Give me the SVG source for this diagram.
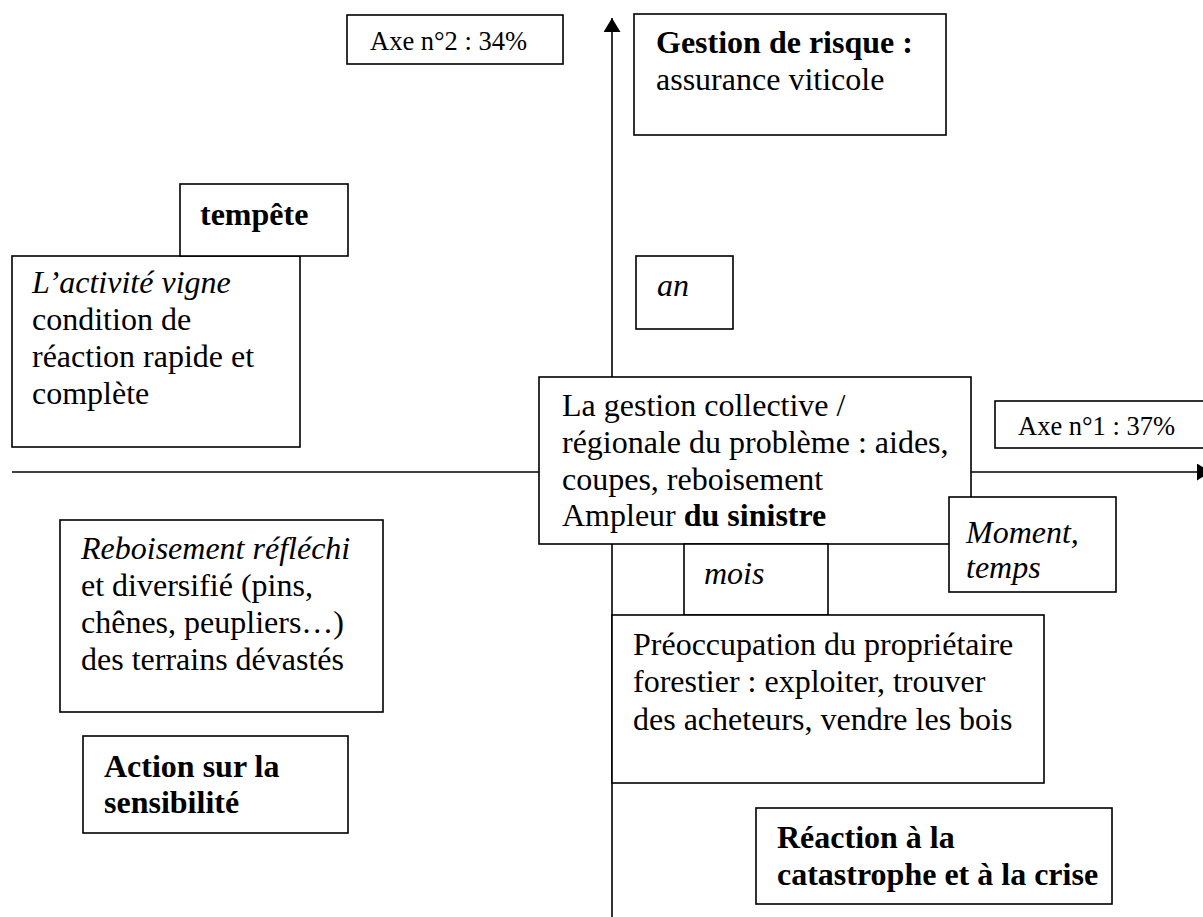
<svg xmlns="http://www.w3.org/2000/svg" width="1203" height="917" viewBox="0 0 1203 917">
  <style>
    .box { fill: #fff; stroke: #000; stroke-width: 1.6; }
    .axis { fill: none; stroke: #000; stroke-width: 1.6; }
    text { font-family: "Liberation Serif", "Times New Roman", serif; font-size: 32px; fill: #000; }
    .small { font-size: 26.5px; }
    .b { font-weight: bold; }
    .i { font-style: italic; }
  </style>
  <defs>
    <marker id="arrow" markerUnits="userSpaceOnUse" markerWidth="15" markerHeight="17" refX="14" refY="8.5" orient="auto">
      <path d="M0,0 L14,8.5 L0,17 z" fill="#000"/>
    </marker>
  </defs>

  <rect width="1203" height="917" fill="#fff"/>

  <!-- axes -->
  <g id="connectors">
    <line class="axis" x1="612" y1="917" x2="612" y2="18" marker-end="url(#arrow)"/>
    <line class="axis" x1="12" y1="472" x2="1211" y2="472" marker-end="url(#arrow)"/>
  </g>

  <g id="axe2">
    <rect class="box" x="347" y="15" width="216" height="49"/>
    <text class="small" x="370" y="50">Axe n°2 : 34%</text>
  </g>

  <g id="gestion-risque">
    <rect class="box" x="634" y="14" width="312" height="121"/>
    <text class="b" x="656" y="53">Gestion de risque :</text>
    <text x="656" y="90">assurance viticole</text>
  </g>

  <g id="activite-vigne">
    <rect class="box" x="12" y="256" width="288" height="191"/>
    <text class="i" x="32" y="293">L’activité vigne</text>
    <text x="32" y="330">condition de</text>
    <text x="32" y="367">réaction rapide et</text>
    <text x="32" y="404">complète</text>
  </g>

  <g id="tempete">
    <rect class="box" x="180" y="184" width="168" height="72"/>
    <text class="b" x="200" y="225">tempête</text>
  </g>

  <g id="an">
    <rect class="box" x="636" y="256" width="97" height="73"/>
    <text class="i" x="657" y="296">an</text>
  </g>

  <g id="axe1">
    <rect class="box" x="995" y="401" width="216" height="47"/>
    <text class="small" x="1018" y="435">Axe n°1 : 37%</text>
  </g>

  <g id="gestion-collective">
    <rect class="box" x="539" y="377" width="432" height="167"/>
    <text x="562" y="416">La gestion collective /</text>
    <text x="562" y="453">régionale du problème : aides,</text>
    <text x="562" y="490">coupes, reboisement</text>
    <text x="562" y="526">Ampleur <tspan class="b">du sinistre</tspan></text>
  </g>

  <g id="moment">
    <rect class="box" x="949" y="497" width="167" height="95"/>
    <text class="i" x="966" y="543">Moment,</text>
    <text class="i" x="966" y="578">temps</text>
  </g>

  <g id="mois">
    <rect class="box" x="684" y="544" width="144" height="71"/>
    <text class="i" x="704" y="584">mois</text>
  </g>

  <g id="reboisement">
    <rect class="box" x="60" y="520" width="323" height="192"/>
    <text class="i" x="81" y="559">Reboisement réfléchi</text>
    <text x="81" y="596">et diversifié (pins,</text>
    <text x="81" y="633">chênes, peupliers…)</text>
    <text x="81" y="670">des terrains dévastés</text>
  </g>

  <g id="preoccupation">
    <rect class="box" x="612" y="615" width="432" height="168"/>
    <text x="633" y="655">Préoccupation du propriétaire</text>
    <text x="633" y="692">forestier : exploiter, trouver</text>
    <text x="633" y="730">des acheteurs, vendre les bois</text>
  </g>

  <g id="action-sensibilite">
    <rect class="box" x="83" y="736" width="265" height="97"/>
    <text class="b" x="104" y="777">Action sur la</text>
    <text class="b" x="104" y="813">sensibilité</text>
  </g>

  <g id="reaction-crise">
    <rect class="box" x="756" y="808" width="356" height="96"/>
    <text class="b" x="777" y="848">Réaction à la</text>
    <text class="b" x="777" y="885">catastrophe et à la crise</text>
  </g>
</svg>
